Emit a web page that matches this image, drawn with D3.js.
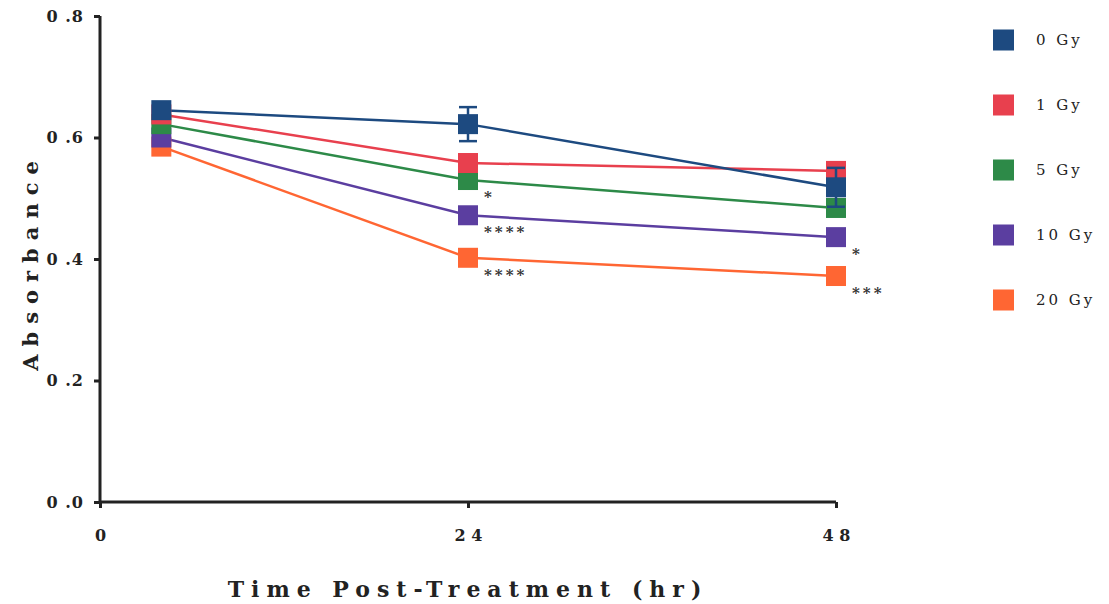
<!DOCTYPE html>
<html>
<head>
<meta charset="utf-8">
<script src="https://cdn.jsdelivr.net/npm/d3@7"></script>
<style>
  body { margin: 0; background: #fff; }
  svg text { font-family: "DejaVu Serif", "Liberation Serif", serif; }
</style>
</head>
<body>
<div id="chart"></div>
<script>
// data
let times = [4, 24, 48];
let doses = ["0 Gy", "1 Gy", "5 Gy", "10 Gy", "20 Gy"];
let colors = ["#1d4a80", "#e8404e", "#2d8a48", "#5b3ea0", "#ff6633"];
let gy0 = [0.645, 0.622, 0.518];
let gy1 = [0.638, 0.558, 0.545];
let gy5 = [0.622, 0.530, 0.484];
let gy10 = [0.600, 0.472, 0.436];
let gy20 = [0.585, 0.402, 0.372];
let err0 = [0.010, 0.028, 0.032];
let err5 = [0.004, 0.012, 0.010];
let stars24 = ["", "", "*", "****", "****"];
let stars48 = ["", "", "", "*", "***"];
let yTicks = [0, 0.2, 0.4, 0.6, 0.8];
let xTicks = [0, 24, 48];

let series = [gy0, gy1, gy5, gy10, gy20];
let errs = [err0, null, err5, null, null];

let w = 1109, h = 604;
let svg = d3.select("#chart").append("svg")
  .attr("width", w).attr("height", h);

let xScale = d3.scaleLinear().domain([0, 48]).range([100, 836]);
let yScale = d3.scaleLinear().domain([0, 0.8]).range([502, 16]);

// axes
let yAxis = d3.axisLeft(yScale).tickValues(yTicks).tickSize(6).tickPadding(10)
  .tickFormat(d => d3.format(".1f")(d).replace(".", " ."));
let gy = svg.append("g").attr("transform", "translate(100,0)").call(yAxis);
gy.select(".domain").attr("stroke", "#222").attr("stroke-width", 3).attr("d", "M0,16V502");
gy.selectAll(".tick line").attr("stroke", "#222").attr("stroke-width", 3);
gy.selectAll(".tick text").attr("font-size", 16).attr("font-weight", "bold")
  .attr("fill", "#222").attr("letter-spacing", 1);

let xAxis = d3.axisBottom(xScale).tickValues(xTicks).tickSize(6).tickPadding(22)
  .tickFormat(d => String(d).split("").join(" "));
let gx = svg.append("g").attr("transform", "translate(0,502)").call(xAxis);
gx.select(".domain").attr("stroke", "#222").attr("stroke-width", 3).attr("d", "M100,0H836");
gx.selectAll(".tick line").attr("stroke", "#222").attr("stroke-width", 3);
gx.selectAll(".tick text").attr("font-size", 16).attr("font-weight", "bold").attr("fill", "#222");

// labels
svg.append("text")
  .attr("text-anchor", "middle")
  .attr("x", 468).attr("y", 597)
  .attr("font-size", 22).attr("font-weight", "bold").attr("letter-spacing", 7)
  .attr("fill", "#222")
  .text("Time Post-Treatment (hr)");
svg.append("text")
  .attr("text-anchor", "middle")
  .attr("transform", "translate(38,262) rotate(-90)")
  .attr("font-size", 21).attr("font-weight", "bold").attr("letter-spacing", 8)
  .attr("fill", "#222")
  .text("Absorbance");

// series, blue drawn last
let line = d3.line().x((d, i) => xScale(times[i])).y(d => yScale(d));
let order = [4, 3, 2, 1, 0];
let sq = 20;
order.forEach(k => {
  let vals = series[k];
  svg.append("path").attr("d", line(vals))
    .attr("fill", "none").attr("stroke", colors[k]).attr("stroke-width", 2.5);
});
order.forEach(k => {
  let vals = series[k];
  let e = errs[k];
  vals.forEach((v, i) => {
    let cx = xScale(times[i]), cy = yScale(v);
    if (e) {
      let y1 = yScale(v + e[i]), y2 = yScale(v - e[i]);
      svg.append("line").attr("x1", cx).attr("x2", cx).attr("y1", y1).attr("y2", y2)
        .attr("stroke", colors[k]).attr("stroke-width", 2.5);
      [y1, y2].forEach(yy => svg.append("line")
        .attr("x1", cx - 9).attr("x2", cx + 9).attr("y1", yy).attr("y2", yy)
        .attr("stroke", colors[k]).attr("stroke-width", 2.5));
    }
    svg.append("rect")
      .attr("x", cx - sq / 2).attr("y", cy - sq / 2)
      .attr("width", sq).attr("height", sq)
      .attr("fill", colors[k]);
  });
});

// significance stars
[stars24, stars48].forEach((st, j) => {
  let t = times[j + 1];
  st.forEach((s, k) => {
    if (!s) return;
    svg.append("text")
      .attr("x", xScale(t) + 16).attr("y", yScale(series[k][j + 1]) + 22)
      .attr("font-size", 15).attr("font-weight", "bold").attr("letter-spacing", 3)
      .attr("fill", "#333")
      .text(s);
  });
});

// legend
let legendY = d3.scalePoint().domain(doses).range([40, 300]);
let lg = svg.append("g");
doses.forEach((d, k) => {
  lg.append("rect")
    .attr("x", 993).attr("y", legendY(d) - 10.5)
    .attr("width", 21).attr("height", 21).attr("fill", colors[k]);
  lg.append("text")
    .attr("x", 1036).attr("y", legendY(d) + 5)
    .attr("font-size", 15).attr("letter-spacing", 3)
    .attr("fill", "#222")
    .text(d);
});
</script>
</body>
</html>
